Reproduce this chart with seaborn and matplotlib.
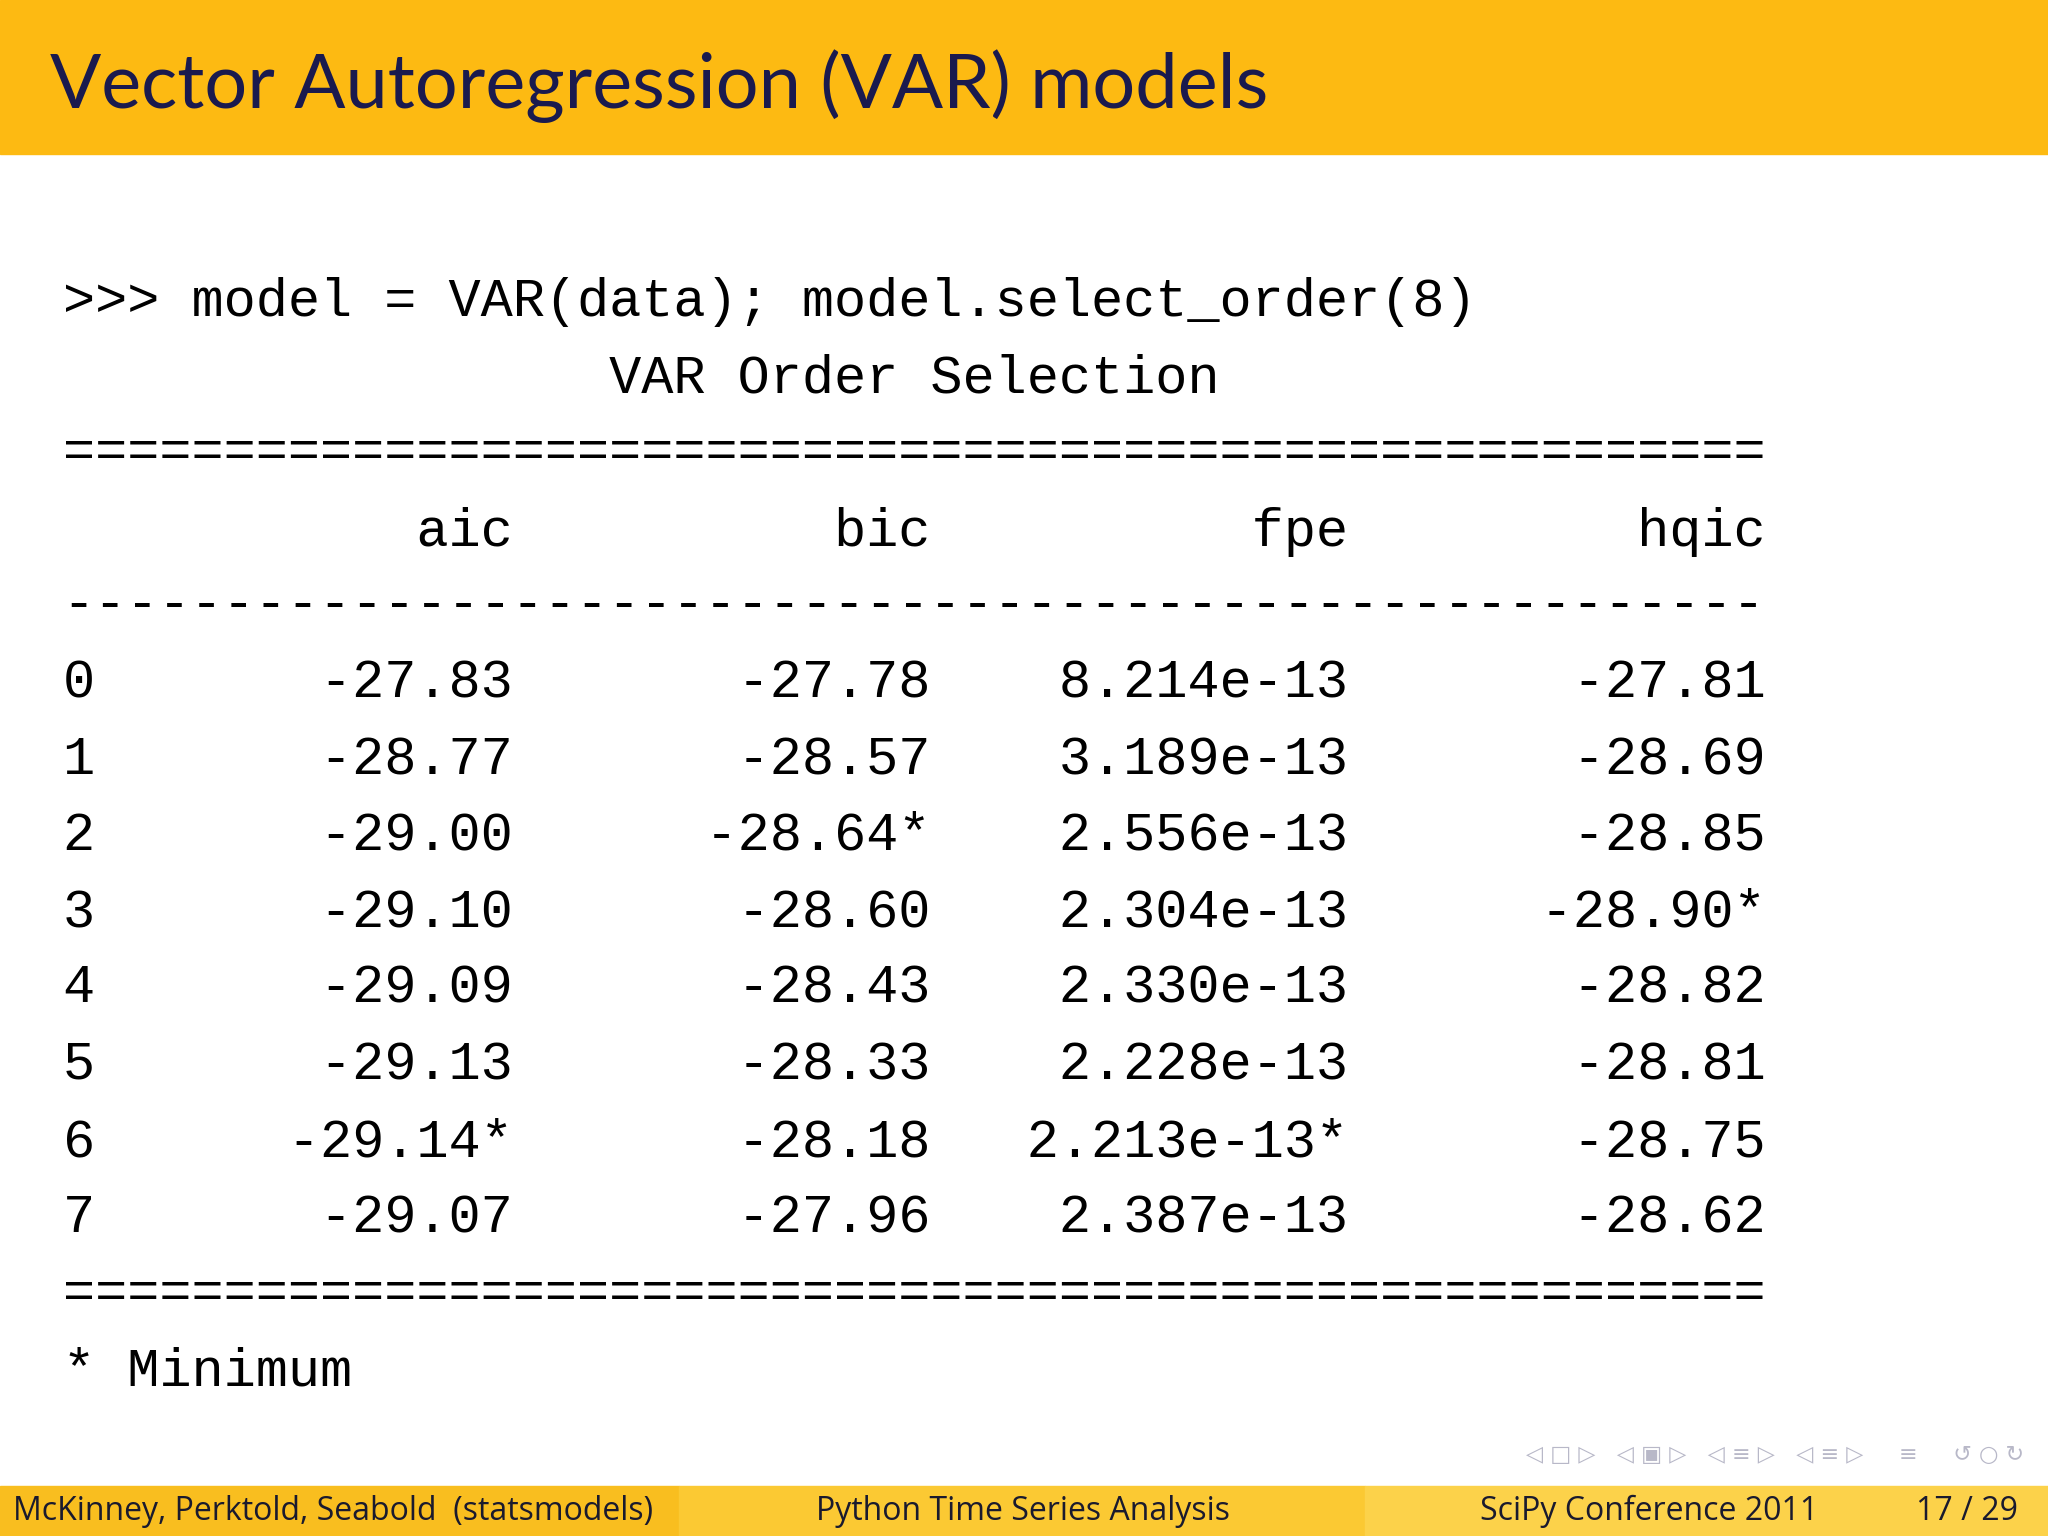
import matplotlib.pyplot as plt
import seaborn as sns
from matplotlib.patches import Rectangle

sns.set_theme(style="white")
plt.rcParams['font.family'] = ['DejaVu Sans']

# table data
lags = ["0", "1", "2", "3", "4", "5", "6", "7"]
aic = ["-27.83", "-28.77", "-29.00", "-29.10", "-29.09", "-29.13", "-29.14*", "-29.07"]
bic = ["-27.78", "-28.57", "-28.64*", "-28.60", "-28.43", "-28.33", "-28.18", "-27.96"]
fpe = ["8.214e-13", "3.189e-13", "2.556e-13", "2.304e-13", "2.330e-13", "2.228e-13", "2.213e-13*", "2.387e-13"]
hqic = ["-27.81", "-28.69", "-28.85", "-28.90*", "-28.82", "-28.81", "-28.75", "-28.62"]
columns = ["aic", "bic", "fpe", "hqic"]

W, H = 1568, 1176  # layout reference size
fig = plt.figure(figsize=(20.48, 15.36), dpi=100)
fig.patch.set_facecolor("white")


def fy(y):
    return 1 - y / H


def fx(x):
    return x / W


# title bar
fig.add_artist(Rectangle((0, fy(118)), 1, 118 / H, transform=fig.transFigure,
                         color="#FDBA12", zorder=0))
fig.text(fx(38), fy(66), "Vector Autoregression (VAR) models", fontsize=54.5,
         family="Lato", color="#1A1A4E", va="center", ha="left")

mono = dict(family="Liberation Mono", fontsize=38.6, color="black", va="center", ha="left")
cw = 13
lines = [">>> model = VAR(data); model.select_order(8)",
         " " * 17 + "VAR Order Selection",
         "=" * 53,
         " " + "".join(c.rjust(cw) for c in columns),
         "-" * 53]
for i in range(len(lags)):
    lines.append(lags[i] + aic[i].rjust(cw) + bic[i].rjust(cw)
                 + fpe[i].rjust(cw) + hqic[i].rjust(cw))
lines += ["=" * 53, "* Minimum"]
ys = [231, 290, 347, 407, 463, 523, 582, 640, 699, 757, 816, 875, 933, 991, 1050]
for y, s in zip(ys, lines):
    fig.text(fx(48), fy(y), s, **mono)

# navigation symbols (approximate)
fig.text(fx(1550), fy(1114), "◁ □ ▷   ◁ ▣ ▷   ◁ ≡ ▷   ◁ ≡ ▷     ≡     ↺ ○ ↻", fontsize=16,
         family=["DejaVu Sans"], color="#B8B8C8", ha="right", va="center")

# footer
segs = [(0, 520, "#F9BE1F"), (520, 1045, "#FBC933"), (1045, W, "#FCD24A")]
for x0, x1, c in segs:
    fig.add_artist(Rectangle((fx(x0), 0), fx(x1 - x0), 38 / H, transform=fig.transFigure,
                             color=c, zorder=0))
foot = dict(family="Open Sans", fontsize=23, color="#1A1A2E", va="center")
fig.text(fx(10), fy(1157), "McKinney, Perktold, Seabold  (statsmodels)", ha="left", **foot)
fig.text(fx(783), fy(1157), "Python Time Series Analysis", ha="center", **foot)
fig.text(fx(1392), fy(1157), "SciPy Conference 2011", ha="right", **foot)
fig.text(fx(1545), fy(1157), "17 / 29", ha="right", **foot)

fig.savefig("out.png", dpi=100, facecolor="white")
